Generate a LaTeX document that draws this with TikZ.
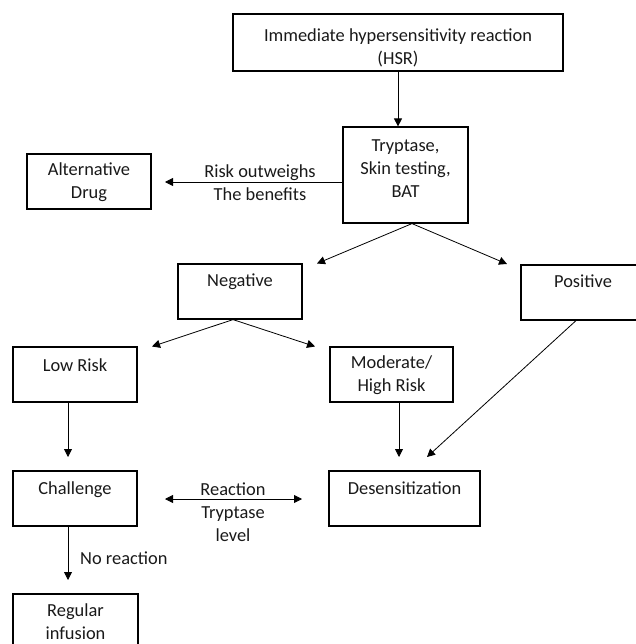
\documentclass[tikz,border=0pt]{standalone}
\usepackage{fontspec}
\setmainfont{Carlito}
\usetikzlibrary{arrows.meta}
\newcommand\tlines[2]{\raisebox{#1}[0pt][0pt]{\begin{tabular}[c]{@{}c@{}}#2\end{tabular}}}
\begin{document}
\begin{tikzpicture}[x=1pt,y=-1pt,
  box/.style={draw, line width=1.2pt, inner sep=0pt, align=center, font=\fontsize{18.4}{23}\selectfont, text=black!90},
  lbl/.style={inner sep=0pt, align=center, font=\fontsize{18.4}{23}\selectfont, text=black!90},
  arr/.style={line width=0.8pt, -{Triangle[length=8pt,width=8pt]}},
  darr/.style={line width=0.8pt, {Triangle[length=8pt,width=8pt]}-{Triangle[length=8pt,width=8pt]}},
]
\useasboundingbox (0,0) rectangle (635,644);
% boxes
\node[box, minimum width=330pt, minimum height=57pt] (hsr) at (398,42.5) {\tlines{-10.4pt}{Immediate hypersensitivity reaction\\(HSR)}};
\node[box, minimum width=125pt, minimum height=96pt] (tryp) at (405.5,175) {\tlines{1.2pt}{Tryptase,\\Skin testing,\\BAT}};
\node[box, minimum width=124pt, minimum height=55pt] (alt) at (89,181.5) {\tlines{-5.4pt}{Alternative\\Drug}};
\node[box, minimum width=124pt, minimum height=55pt] (neg) at (240,291.5) {\tlines{5.1pt}{Negative}};
\node[box, minimum width=124pt, minimum height=55pt] (pos) at (583,292.5) {\tlines{5.1pt}{Positive}};
\node[box, minimum width=124pt, minimum height=55pt] (low) at (75,374.5) {\tlines{3.1pt}{Low Risk}};
\node[box, minimum width=123pt, minimum height=55pt] (mod) at (391.5,374.5) {\tlines{-4.9pt}{Moderate/\\High Risk}};
\node[box, minimum width=124pt, minimum height=55pt] (chal) at (75,498.5) {\tlines{4.1pt}{Challenge}};
\node[box, minimum width=151pt, minimum height=55pt] (des) at (404.5,498.5) {\tlines{4.1pt}{Desensitization}};
\node[box, minimum width=125pt, minimum height=55pt] (reg) at (75.5,621.5) {\tlines{-5.9pt}{Regular\\infusion}};
% free ends
\coordinate (altin) at (165,182);
\coordinate (negin) at (317,263.5);
\coordinate (posin) at (507,264);
\coordinate (lowin) at (152,346.5);
\coordinate (modin) at (315,346.5);
\coordinate (lowout) at (68,457);
\coordinate (modout) at (399,457);
\coordinate (posout) at (427,457);
\coordinate (chalR) at (165,499);
\coordinate (desL) at (302,499);
\coordinate (regin) at (68,580);
% connectors
\draw[arr] (hsr.south) -- (tryp.north -| hsr.south);
\draw[arr] (tryp.west |- altin) -- (altin);
\draw[arr] ([xshift=6.5pt]tryp.south) -- (negin);
\draw[arr] ([xshift=6.5pt]tryp.south) -- (posin);
\draw[arr] ([xshift=-7pt]neg.south) -- (lowin);
\draw[arr] ([xshift=-7pt]neg.south) -- (modin);
\draw[arr] (low.south -| lowout) -- (lowout);
\draw[arr] (mod.south -| modout) -- (modout);
\draw[arr] ([xshift=-7pt]pos.south) -- (posout);
\draw[darr] (chalR) -- (desL);
\draw[arr] (chal.south -| regin) -- (regin);
% labels
\node[lbl] (risk) at (260,183) {Risk outweighs\\The benefits};
\node[lbl] (react) at (233,512.5) {Reaction\\Tryptase\\level};
\node[lbl, anchor=west] (norx) at (80,558) {No reaction};
\end{tikzpicture}
\end{document}
